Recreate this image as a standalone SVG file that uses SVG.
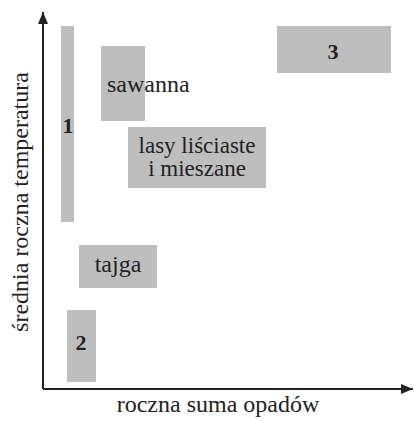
<svg xmlns="http://www.w3.org/2000/svg" width="414" height="421" viewBox="0 0 414 421">
<style>
.box{fill:#bebebe}
.t{font-family:"Liberation Serif",serif;font-size:24px;fill:#222}
.s{font-size:23px}
.b{font-family:"Liberation Serif",serif;font-size:22px;font-weight:bold;fill:#222;text-anchor:middle}
.ax{stroke:#222;stroke-width:2;fill:none}
</style>
<defs>
<marker id="arr" viewBox="0 0 12 10" refX="12" refY="5" markerWidth="12" markerHeight="10" markerUnits="userSpaceOnUse" orient="auto">
<path d="M0,0 L12,5 L0,10 z" fill="#222"/>
</marker>
</defs>
<rect width="414" height="421" fill="#fff"/>
<g id="n1"><rect class="box" x="61" y="26" width="13" height="196"/><text class="b" x="68" y="133">1</text></g>
<g id="sawanna"><rect class="box" x="101" y="46" width="44" height="75"/><text class="t" x="107" y="92">sawanna</text></g>
<g id="lasy"><rect class="box" x="128" y="127" width="138" height="61"/><text class="t s" x="197" y="153" text-anchor="middle">lasy liściaste</text><text class="t s" x="197" y="176" text-anchor="middle">i mieszane</text></g>
<g id="n3"><rect class="box" x="277" y="26" width="114" height="47"/><text class="b" x="333" y="59">3</text></g>
<g id="tajga"><rect class="box" x="79" y="245" width="78" height="43"/><text class="t" x="118" y="272" text-anchor="middle">tajga</text></g>
<g id="n2"><rect class="box" x="67" y="310" width="29" height="72"/><text class="b" x="81" y="350">2</text></g>
<g id="connectors">
<line class="ax" x1="43" y1="389" x2="43" y2="12" marker-end="url(#arr)"/>
<line class="ax" x1="43" y1="389" x2="413" y2="389" marker-end="url(#arr)"/>
</g>
<text class="t" x="218" y="412" text-anchor="middle">roczna suma opadów</text>
<text class="t" transform="translate(28,202) rotate(-90)" text-anchor="middle">średnia roczna temperatura</text>
</svg>
